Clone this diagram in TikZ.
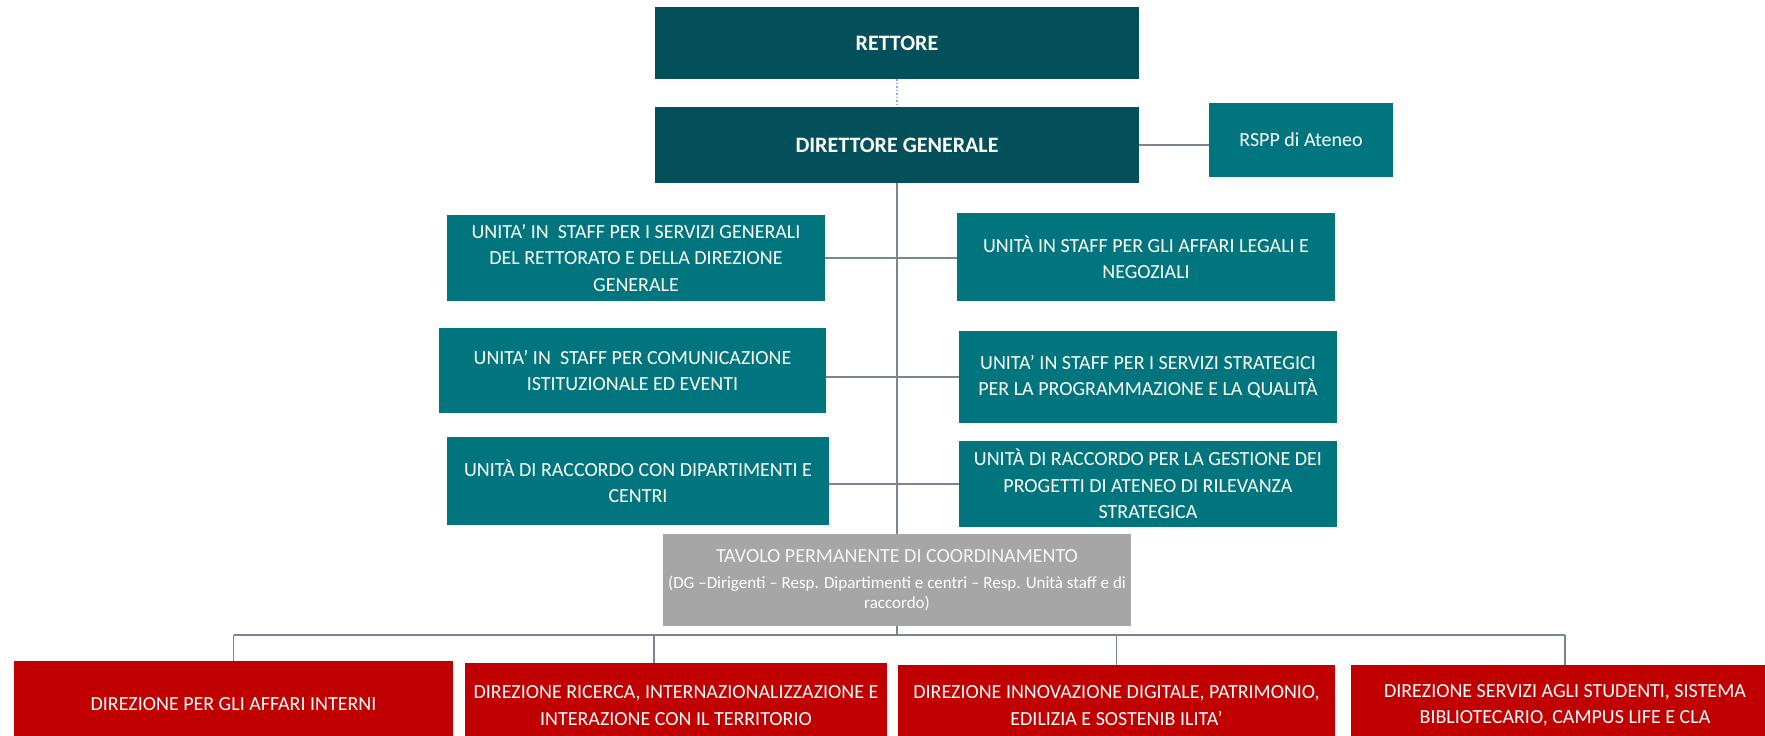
\documentclass[tikz,border=0pt]{standalone}
\usepackage{fontspec}
\setmainfont{Carlito}
\usetikzlibrary{backgrounds}
\definecolor{dteal}{HTML}{03505A}
\definecolor{teal2}{HTML}{00757D}
\definecolor{dred}{HTML}{C00000}
\definecolor{tgray}{HTML}{A6A6A6}
\definecolor{lgray}{HTML}{7A8494}
\definecolor{lblue}{HTML}{8FAADC}
\begin{document}
\begin{tikzpicture}[x=1pt,y=-1pt,
  box/.style={rectangle, inner sep=0pt, outer sep=0pt, text=white, align=center, font=\fontsize{20}{26.5}\selectfont},
  topbox/.style={box, fill=dteal, font=\fontsize{22}{26}\selectfont\bfseries},
  unitbox/.style={box, fill=teal2},
  dirbox/.style={box, fill=dred},
  tavbox/.style={box, fill=tgray},
  conn/.style={draw=lgray, line width=1.8pt},
  dotconn/.style={draw=lblue, line width=1.5pt, dotted}]
\clip (0,0) rectangle (1765,736);
\node[topbox, minimum width=484pt, minimum height=72pt] (rett) at (897,43) {RETTORE};
\node[topbox, minimum width=484pt, minimum height=76pt] (dg) at (897,145) {DIRETTORE GENERALE};
\node[unitbox, minimum width=184pt, minimum height=74pt] (rspp) at (1301,140) {RSPP di Ateneo};
\node[unitbox, minimum width=378pt, minimum height=86pt] (L1) at (636,258) {UNITA’ IN \ STAFF PER I SERVIZI GENERALI\\DEL RETTORATO E DELLA DIREZIONE\\GENERALE};
\node[unitbox, minimum width=378pt, minimum height=88pt] (R1) at (1146,257) {UNITÀ IN STAFF PER GLI AFFARI LEGALI E\\NEGOZIALI};
\node[unitbox, minimum width=387pt, minimum height=85pt] (L2) at (632.5,370.5) {UNITA’ IN \ STAFF PER COMUNICAZIONE\\ISTITUZIONALE ED EVENTI};
\node[unitbox, minimum width=378pt, minimum height=92pt] (R2) at (1148,377) {UNITA’ IN STAFF PER I SERVIZI STRATEGICI\\PER LA PROGRAMMAZIONE E LA QUALITÀ};
\node[unitbox, minimum width=382pt, minimum height=88pt] (L3) at (638,481) {UNITÀ DI RACCORDO CON DIPARTIMENTI E\\CENTRI};
\node[unitbox, minimum width=378pt, minimum height=86pt] (R3) at (1148,484) {UNITÀ DI RACCORDO PER LA GESTIONE DEI\\PROGETTI DI ATENEO DI RILEVANZA\\STRATEGICA};
\node[tavbox, minimum width=468pt, minimum height=92pt] (tav) at (897,580) {\color{white!92!gray}TAVOLO PERMANENTE DI COORDINAMENTO\\\fontsize{17}{20}\selectfont (DG –Dirigenti – Resp. Dipartimenti e centri – Resp. Unità staff e di\\[-6.5pt]\fontsize{17}{20}\selectfont raccordo)};
\node[dirbox, minimum width=439pt, minimum height=86pt] (B1) at (233.5,704) {DIREZIONE PER GLI AFFARI INTERNI};
\node[dirbox, minimum width=422pt, minimum height=85pt] (B2) at (676,705.5) {DIREZIONE RICERCA, INTERNAZIONALIZZAZIONE E\\INTERAZIONE CON IL TERRITORIO};
\node[dirbox, minimum width=437pt, minimum height=81pt] (B3) at (1116.5,705.5) {DIREZIONE INNOVAZIONE DIGITALE, PATRIMONIO,\\EDILIZIA E SOSTENIB ILITA’};
\node[dirbox, minimum width=428pt, minimum height=81pt] (B4) at (1565,705.5) {DIREZIONE SERVIZI AGLI STUDENTI, SISTEMA\\BIBLIOTECARIO, CAMPUS LIFE E CLA};
\coordinate (bus) at (897,635);
\coordinate (b2s) at ([xshift=-22pt]B2.north);
\begin{scope}[on background layer]
\draw[dotconn] (rett.south) -- (dg.north);
\draw[conn] (dg.east) -- (dg.east -| rspp.west);
\draw[conn] (dg.south) -- (bus);
\draw[conn] (L1.east) -- (L1.east -| R1.west);
\draw[conn] (R2.west) -- (R2.west -| L2.east);
\draw[conn] (R3.west) -- (R3.west -| L3.east);
\draw[conn] (B1.north |- bus) -- (B4.north |- bus);
\draw[conn] (B1.north |- bus) -- (B1.north);
\draw[conn] (b2s |- bus) -- (b2s);
\draw[conn] (B3.north |- bus) -- (B3.north);
\draw[conn] (B4.north |- bus) -- (B4.north);
\end{scope}
\end{tikzpicture}
\end{document}
